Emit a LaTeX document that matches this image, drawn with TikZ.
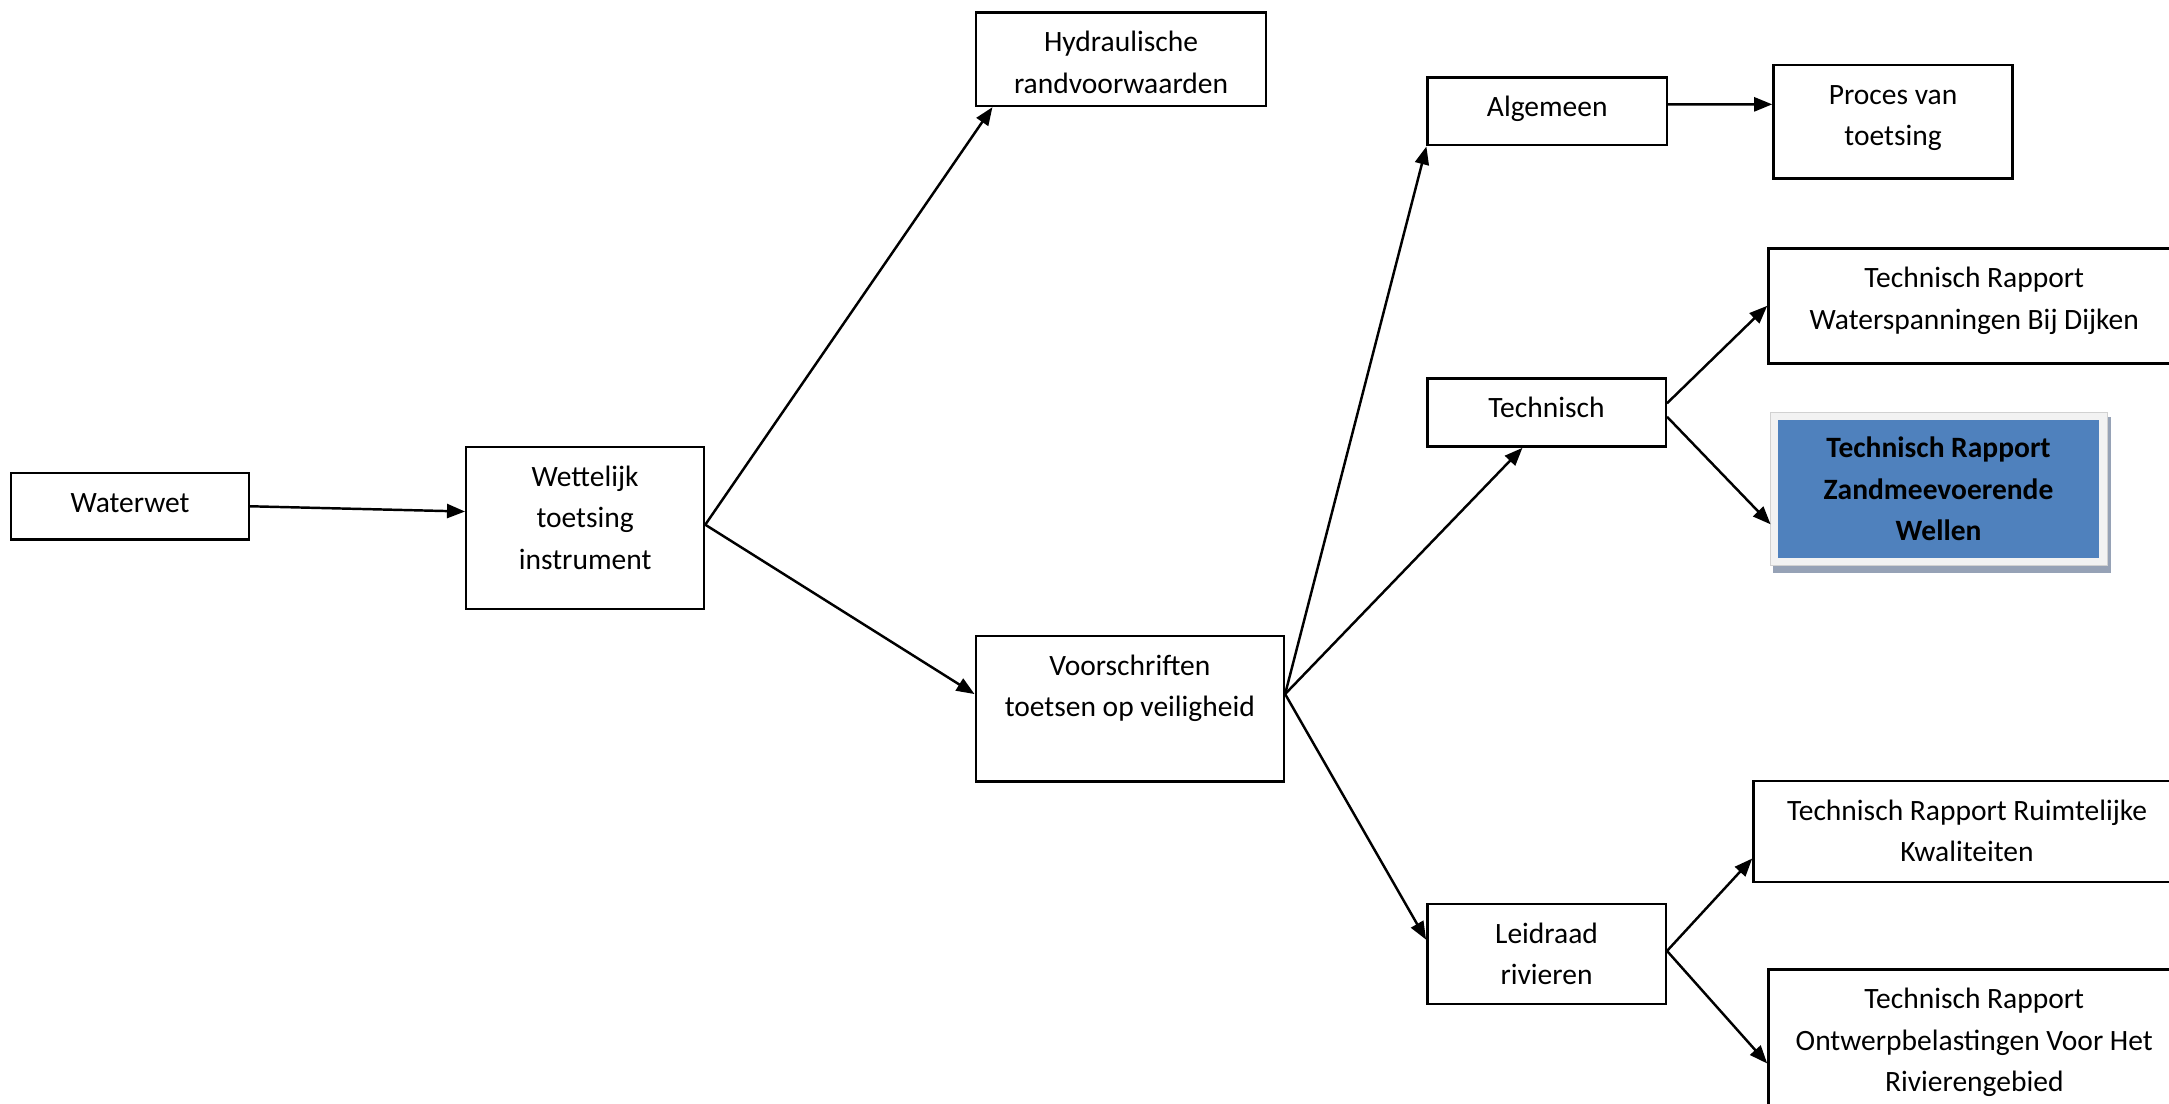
\documentclass[tikz,border=0pt]{standalone}
\usepackage{fontspec}
\setmainfont{Carlito}
\usetikzlibrary{arrows.meta,calc}
\definecolor{wdblauw}{RGB}{79,129,189}
\definecolor{wdrand}{RGB}{242,242,242}
\definecolor{wdschaduw}{RGB}{150,162,182}
\tikzset{
  blok/.style={draw,line width=0.7pt,inner sep=0pt},
  tekst/.style={anchor=north,yshift=-3.1pt,inner sep=0pt,align=center,
    font=\fontsize{8.4}{11.8}\selectfont},
  pijl/.style={line width=0.7pt,-{Triangle[length=1.8mm,width=1.4mm]}}
}
\begin{document}
\begin{tikzpicture}[x=0.013833cm,y=-0.013833cm]
    \useasboundingbox (0,0) rectangle (1568,798);
    \clip (0,0) rectangle (1568,798);
    % --- blokken links en midden ---
    \node[blok,minimum width=2.379cm,minimum height=0.664cm,label={[tekst]north:\strut Waterwet}] (wtw) at (94,366) {};
    \node[blok,minimum width=2.379cm,minimum height=1.625cm,label={[tekst]north:\strut Wettelijk\\toetsing\\instrument}] (wti) at (423,381.7) {};
    \node[blok,minimum width=2.899cm,minimum height=0.937cm,label={[tekst]north:\strut Hydraulische\\randvoorwaarden}] (hrv) at (810.4,42.75) {};
    \node[blok,minimum width=3.083cm,minimum height=1.457cm,label={[tekst]north:\strut Voorschriften\\toetsen op veiligheid}] (vov) at (816.75,512.45) {};
    % --- tweede kolom ---
    \node[blok,minimum width=2.393cm,minimum height=0.678cm,label={[tekst]north:\strut Algemeen}] (alg) at (1118.5,80.5) {};
    \node[blok,minimum width=2.386cm,minimum height=0.683cm,label={[tekst]north:\strut Technisch}] (tec) at (1118,298.2) {};
    \node[blok,minimum width=2.386cm,minimum height=1.000cm,label={[tekst]north:\strut Leidraad\\rivieren}] (ldr) at (1118,689.65) {};
    % --- rapporten rechts ---
    \node[blok,minimum width=2.393cm,minimum height=1.134cm,label={[tekst]north:\strut Proces van\\toetsing}] (pvt) at (1368.5,88) {};
    \node[blok,minimum width=4.118cm,minimum height=1.151cm,label={[tekst]north:\strut Technisch Rapport\\Waterspanningen Bij Dijken}] (trw) at (1427.2,221.1) {};
    \fill[wdschaduw] (1281.5,301.2) rectangle (1525.9,414); % schaduw
    \node[draw=wdrand,line width=2.12pt,fill=wdblauw,minimum width=3.286cm,minimum height=1.457cm,
          inner sep=0pt,align=center,font=\fontsize{8.4}{11.8}\selectfont\bfseries] (trz) at (1401.4,353.6)
          {Technisch Rapport\\Zandmeevoerende\\Wellen};
    \draw[black!18,line width=0.3pt] (1280.1,298.3) rectangle (1523.2,409); % rand
    \node[blok,minimum width=4.274cm,minimum height=1.015cm,label={[tekst]north:\strut Technisch Rapport Ruimtelijke\\Kwaliteiten}] (trr) at (1422,601.1) {};
    \node[blok,minimum width=4.118cm,minimum height=1.650cm,label={[tekst]north:\strut Technisch Rapport\\Ontwerpbelastingen Voor Het\\Rivierengebied}] (tro) at (1427.2,760.35) {};
    % --- vertrekpunten ---
    \coordinate (wtiuit) at ($(wti.north east)!.48!(wti.south east)$);
    \coordinate (vovuit) at ($(vov.north east)!.4!(vov.south east)$);
    \coordinate (ldruit) at ($(ldr.north east)!.47!(ldr.south east)$);
    % --- pijlen ---
    \draw[pijl] (wtw.east) -- ($(wti.north west)!.4!(wti.south west)$);
    \draw[pijl] (wtiuit) -- ($(hrv.south west)!.06!(hrv.south east)$);
    \draw[pijl] (wtiuit) -- ($(vov.north west)!.4!(vov.south west)$);
    \draw[pijl] (vovuit) -- (alg.south west);
    \draw[pijl] (vovuit) -- ($(tec.south west)!.4!(tec.south east)$);
    \draw[pijl] (vovuit) -- ($(ldr.north west)!.36!(ldr.south west)$);
    \draw[pijl] ($(alg.north east)!.4!(alg.south east)$) -- ($(pvt.north west)!.35!(pvt.south west)$);
    \draw[pijl] ($(tec.north east)!.37!(tec.south east)$) -- (trw.west);
    \draw[pijl] ($(tec.north east)!.56!(tec.south east)$) -- ($(trz.north west)!.73!(trz.south west)$);
    \draw[pijl] (ldruit) -- ($(trr.north west)!.76!(trr.south west)$);
    \draw[pijl] (ldruit) -- ($(tro.north west)!.57!(tro.south west)$);
\end{tikzpicture}
\end{document}
